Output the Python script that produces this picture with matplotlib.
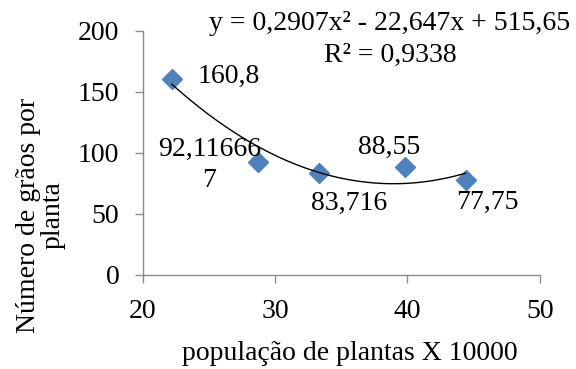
import matplotlib
matplotlib.use("Agg")
import matplotlib.pyplot as plt
import numpy as np

# plant population (x 10000) and grains per plant
populacao = [22.2, 28.7, 33.3, 39.8, 44.4]
graos = [160.8, 92.116667, 83.716, 88.55, 77.75]

# quadratic trendline coefficients (a, b, c)
coef = [0.2907, -22.647, 515.65]
equacao = "y = 0,2907x² - 22,647x + 515,65"
r2_texto = "R² = 0,9338"

# label offsets in points, one per point
offsets = [(41, 1.5), (-35, -2), (22, -22), (-11, 14), (15.5, -16)]

plt.rcParams['font.family'] = ['Liberation Serif', 'DejaVu Serif']
plt.rcParams['font.size'] = 20

fig = plt.figure(figsize=(5.76, 3.69), dpi=100)
ax = fig.add_axes([0.2477, 0.2556, 0.6892, 0.6612])

ax.plot(populacao, graos, linestyle='none', marker='D', markersize=10,
        color='#4F81BD', zorder=2)

xs = np.linspace(populacao[0], populacao[-1], 200)
ax.plot(xs, np.polyval(coef, xs), color='black', linewidth=1.0, zorder=3)

for x, y, off in zip(populacao, graos, offsets):
    txt = str(y).replace('.', ',')
    if len(txt) > 8:
        txt = txt[:8] + '\n' + txt[8:]
    ax.annotate(txt, (x, y), xytext=off, textcoords='offset points',
                ha='center', va='center', multialignment='center',
                linespacing=1.35)

ax.set_xlim(20, 50)
ax.set_ylim(0, 200)
ax.set_xticks([20, 30, 40, 50])
ax.set_yticks([0, 50, 100, 150, 200])

grey = '#8c8c8c'
for side in ['top', 'right']:
    ax.spines[side].set_visible(False)
for side in ['left', 'bottom']:
    ax.spines[side].set_color(grey)
    ax.spines[side].set_linewidth(1.0)
ax.tick_params(axis='both', direction='out', length=5.8, width=1.0, color=grey)
ax.tick_params(axis='x', pad=12)
ax.tick_params(axis='y', pad=11)

# trendline equation and R²
fig.text(390 / 576, 1 - 24 / 369, equacao, ha='center', va='center')
fig.text(390 / 576, 1 - 55 / 369, r2_texto, ha='center', va='center')

# axis titles
fig.text(350 / 576, 1 - 353 / 369, "população de plantas X 10000",
         ha='center', va='center')
fig.text(41 / 576, 1 - 215 / 369, "Número de grãos por\nplanta",
         rotation=90, ha='center', va='center', multialignment='center',
         linespacing=1.0)

fig.savefig("out.png", dpi=100)
